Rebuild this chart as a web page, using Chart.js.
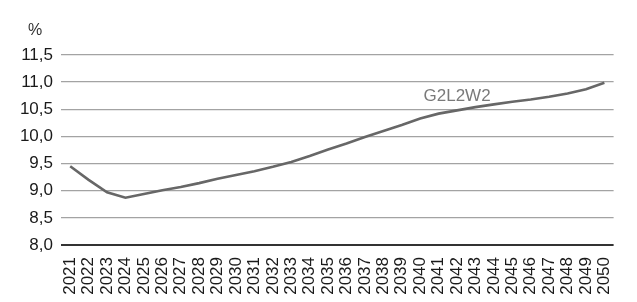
<!DOCTYPE html>
<html>
<head>
<meta charset="utf-8">
<script src="https://cdn.jsdelivr.net/npm/chart.js@4.4.0/dist/chart.umd.min.js"></script>
<style>
  html, body { margin: 0; padding: 0; background: #fff; }
  #wrap { width: 637px; height: 302px; }
</style>
</head>
<body>
<div id="wrap"><canvas id="myChart"></canvas></div>
<script>
// data
const years = [
  '2021','2022','2023','2024','2025','2026','2027','2028','2029','2030',
  '2031','2032','2033','2034','2035','2036','2037','2038','2039','2040',
  '2041','2042','2043','2044','2045','2046','2047','2048','2049','2050'
];
const g2l2w2 = [
  9.45, 9.20, 8.97, 8.87, 8.94, 9.01, 9.07, 9.14, 9.22, 9.29,
  9.36, 9.44, 9.53, 9.64, 9.76, 9.87, 9.99, 10.10, 10.21, 10.33,
  10.42, 10.48, 10.54, 10.59, 10.64, 10.68, 10.73, 10.79, 10.87, 10.99
];
const seriesName = 'G2L2W2';
const unitLabel = '%';

const FONT = "'Liberation Sans', Arial, sans-serif";

// draws the unit on top of the y axis and the series name next to the line
const textPlugin = {
  id: 'texts',
  afterDraw(chart) {
    const ctx = chart.ctx;
    const x = chart.scales.x, y = chart.scales.y;
    ctx.save();
    ctx.font = '16px ' + FONT;
    ctx.fillStyle = '#333';
    ctx.textAlign = 'left';
    ctx.textBaseline = 'middle';
    ctx.fillText(unitLabel, 28, 31);

    ctx.font = '17px ' + FONT;
    ctx.fillStyle = '#7a7a7a';
    ctx.textAlign = 'center';
    ctx.fillText(seriesName, x.getPixelForValue(21), y.getPixelForValue(10.74));
    ctx.restore();
  }
};

const config = {
  type: 'line',
  data: {
    labels: years,
    datasets: [{
      label: seriesName,
      data: g2l2w2,
      borderColor: '#676767',
      borderWidth: 2.6,
      pointRadius: 0,
      tension: 0,
      fill: false
    }]
  },
  options: {
    responsive: true,
    maintainAspectRatio: false,
    animation: false,
    layout: {
      padding: { left: 0, right: 12, top: 55, bottom: 0 }
    },
    plugins: {
      legend: { display: false },
      tooltip: { enabled: false }
    },
    scales: {
      x: {
        offset: true,
        grid: { display: false, drawTicks: false },
        border: { display: false },
        ticks: {
          autoSkip: false,
          minRotation: 90,
          maxRotation: 90,
          padding: 12,
          color: '#1a1a1a',
          font: { family: FONT, size: 17 }
        },
        afterFit(scale) { scale.height = 57; }
      },
      y: {
        min: 8,
        max: 11.5,
        border: { display: false },
        grid: {
          drawTicks: false,
          color: ctx => ctx.tick && ctx.tick.value === 8 ? '#333' : '#a3a3a3',
          lineWidth: ctx => ctx.tick && ctx.tick.value === 8 ? 2 : 1.3
        },
        ticks: {
          stepSize: 0.5,
          padding: 8,
          color: '#1a1a1a',
          font: { family: FONT, size: 17 },
          callback: v => v.toFixed(1).replace('.', ',')
        },
        afterFit(scale) { scale.width = 61; }
      }
    }
  },
  plugins: [textPlugin]
};

new Chart(document.getElementById('myChart'), config);
</script>
</body>
</html>
